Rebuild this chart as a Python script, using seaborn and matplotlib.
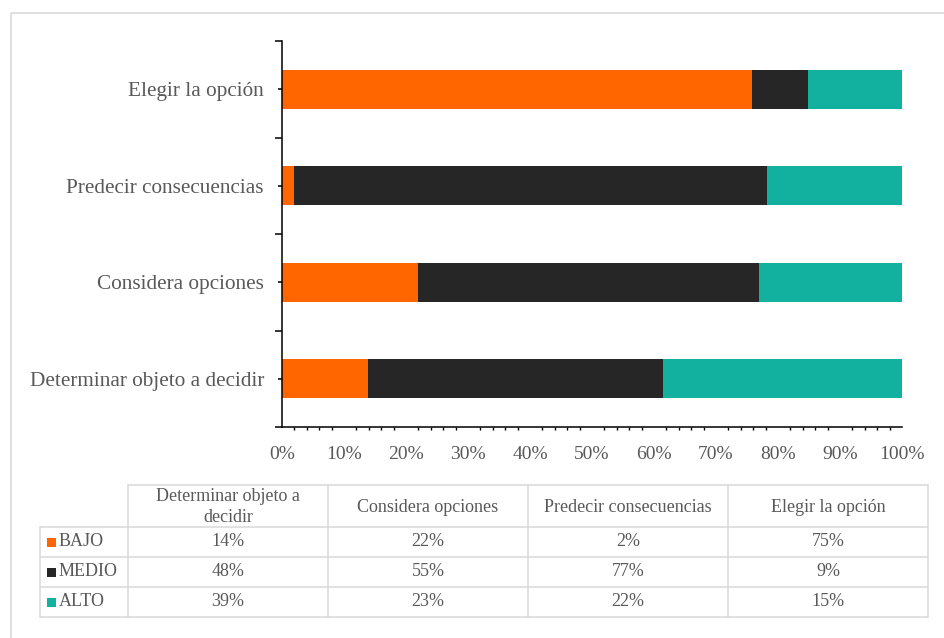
import pandas as pd
import matplotlib.pyplot as plt
import seaborn as sns
from matplotlib.ticker import MultipleLocator, PercentFormatter
from matplotlib.patches import Rectangle

# data
categories = ['Determinar objeto a decidir', 'Considera opciones', 'Predecir consecuencias', 'Elegir la opción']
table_headers = ['Determinar objeto a\ndecidir', 'Considera opciones', 'Predecir consecuencias', 'Elegir la opción']
levels = ['BAJO', 'MEDIO', 'ALTO']
bajo = [14, 22, 2, 75]
medio = [48, 55, 77, 9]
alto = [39, 23, 22, 15]
colors = ['#FF6600', '#262626', '#12B09F']
text_color = '#595959'
grid_color = '#D9D9D9'

sns.set_style('white')
plt.rcParams['font.family'] = ['Liberation Serif', 'DejaVu Serif']

df = pd.DataFrame({'cat': categories, 'BAJO': bajo, 'MEDIO': medio, 'ALTO': alto})
total = df[levels].sum(axis=1)
# cumulative shares for a 100% stacked bar
df['c1'] = df['BAJO'] / total
df['c2'] = (df['BAJO'] + df['MEDIO']) / total
df['c3'] = (df['BAJO'] + df['MEDIO'] + df['ALTO']) / total
order = categories[::-1]

W, H = 944, 638
fig = plt.figure(figsize=(W / 100, H / 100), dpi=100)
ax = fig.add_axes([282 / W, 1 - 427 / H, 620 / W, 386 / H])

# draw from longest to shortest so segments stack
for col, c in zip(['c3', 'c2', 'c1'], colors[::-1]):
    sns.barplot(data=df, y='cat', x=col, order=order, color=c, width=0.4,
                saturation=1, errorbar=None, linewidth=0, ax=ax)

ax.set_xlim(0, 1)
ax.set_ylim(3.5, -0.5)
ax.set_xlabel('')
ax.set_ylabel('')
sns.despine(ax=ax)
for s in ['left', 'bottom']:
    ax.spines[s].set_color('black')
    ax.spines[s].set_linewidth(1.1)

ax.xaxis.set_major_locator(MultipleLocator(0.1))
ax.xaxis.set_minor_locator(MultipleLocator(0.02))
ax.xaxis.set_major_formatter(PercentFormatter(1.0, decimals=0))
ax.tick_params(axis='x', which='major', direction='inout', length=5, width=1.1,
               color='black', labelsize=14, labelcolor=text_color, pad=11)
ax.tick_params(axis='x', which='minor', direction='out', length=2.5, width=1.0,
               color='black', bottom=True)

ax.set_yticks(range(len(order)))
ax.set_yticklabels(order)
ax.set_yticks([-0.5, 0.5, 1.5, 2.5, 3.5], minor=True)
ax.tick_params(axis='y', which='major', direction='out', length=3, width=1.1,
               color='black', labelsize=15.3, labelcolor=text_color, pad=10, left=True)
ax.tick_params(axis='y', which='minor', direction='out', length=5, width=1.1,
               color='black', left=True)

# data table below the chart, in pixel coordinates
tab = fig.add_axes([0, 0, 1, 1])
tab.set_xlim(0, W)
tab.set_ylim(H, 0)
tab.axis('off')
tab.patch.set_alpha(0)

tab.add_patch(Rectangle((11, 13), 1000, 700, fill=False, ec=grid_color, lw=1.2))

x_left, x0, cw = 40, 128, 200
y_rows = [485, 527, 557, 587, 617]
ncol = len(table_headers)
x_end = x0 + cw * ncol
lw = 1.1
# horizontal lines
tab.plot([x0, x_end], [y_rows[0]] * 2, color=grid_color, lw=lw)
for y in y_rows[1:]:
    tab.plot([x_left, x_end], [y, y], color=grid_color, lw=lw)
# vertical lines
tab.plot([x_left, x_left], [y_rows[1], y_rows[-1]], color=grid_color, lw=lw)
for i in range(ncol + 1):
    x = x0 + cw * i
    tab.plot([x, x], [y_rows[0], y_rows[-1]], color=grid_color, lw=lw)

for i, h in enumerate(table_headers):
    tab.text(x0 + cw * (i + 0.5), (y_rows[0] + y_rows[1]) / 2 + 1, h, ha='center', va='center',
             fontsize=13, color=text_color, linespacing=1.3)

for r, (lvl, vals) in enumerate(zip(levels, [bajo, medio, alto])):
    yc = (y_rows[r + 1] + y_rows[r + 2]) / 2
    tab.add_patch(Rectangle((47, yc - 4), 9, 9, color=colors[r], lw=0))
    tab.text(59, yc, lvl, ha='left', va='center', fontsize=13, color=text_color)
    for i, v in enumerate(vals):
        tab.text(x0 + cw * (i + 0.5), yc, f'{v}%', ha='center', va='center',
                 fontsize=13, color=text_color)

fig.savefig('out.png', dpi=100, facecolor='white')
